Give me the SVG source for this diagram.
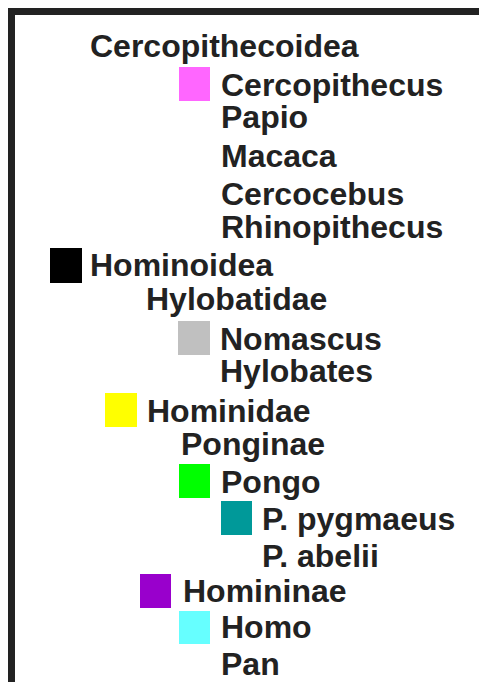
<svg xmlns="http://www.w3.org/2000/svg" width="479" height="682" viewBox="0 0 479 682">
<style>
  text { font-family: "Liberation Sans", Arial, sans-serif; font-weight: bold; font-size: 32px; fill: #222; }
  .frame { fill: none; stroke: #222; stroke-width: 7; }
</style>
<rect x="0" y="0" width="479" height="682" fill="#fff"/>
<rect class="frame" x="11.5" y="11.5" width="490" height="700"/>
<g id="connectors"/>
<g id="cercopithecoidea"><text x="90" y="57">Cercopithecoidea</text></g>
<g id="cercopithecus"><rect x="179" y="67" width="31" height="34" fill="#ff66ff"/><text x="221" y="96">Cercopithecus</text></g>
<g id="papio"><text x="221" y="128">Papio</text></g>
<g id="macaca"><text x="221" y="167">Macaca</text></g>
<g id="cercocebus"><text x="221" y="205">Cercocebus</text></g>
<g id="rhinopithecus"><text x="221" y="238">Rhinopithecus</text></g>
<g id="hominoidea"><rect x="50" y="248" width="32" height="35" fill="#000"/><text x="90" y="276">Hominoidea</text></g>
<g id="hylobatidae"><text x="146" y="310">Hylobatidae</text></g>
<g id="nomascus"><rect x="178" y="321" width="32" height="34" fill="#c0c0c0"/><text x="220" y="350">Nomascus</text></g>
<g id="hylobates"><text x="220" y="382">Hylobates</text></g>
<g id="hominidae"><rect x="105" y="393" width="32" height="34" fill="#ffff00"/><text x="147" y="422">Hominidae</text></g>
<g id="ponginae"><text x="181" y="455">Ponginae</text></g>
<g id="pongo"><rect x="179" y="464" width="31" height="34" fill="#00ff00"/><text x="221" y="493">Pongo</text></g>
<g id="p-pygmaeus"><rect x="221" y="501" width="31" height="34" fill="#009999"/><text x="262" y="530">P. pygmaeus</text></g>
<g id="p-abelii"><text x="262" y="567">P. abelii</text></g>
<g id="homininae"><rect x="140" y="574" width="31" height="34" fill="#9900cc"/><text x="183" y="602">Homininae</text></g>
<g id="homo"><rect x="179" y="611" width="31" height="33" fill="#66ffff"/><text x="221" y="638">Homo</text></g>
<g id="pan"><text x="221" y="675">Pan</text></g>
</svg>
